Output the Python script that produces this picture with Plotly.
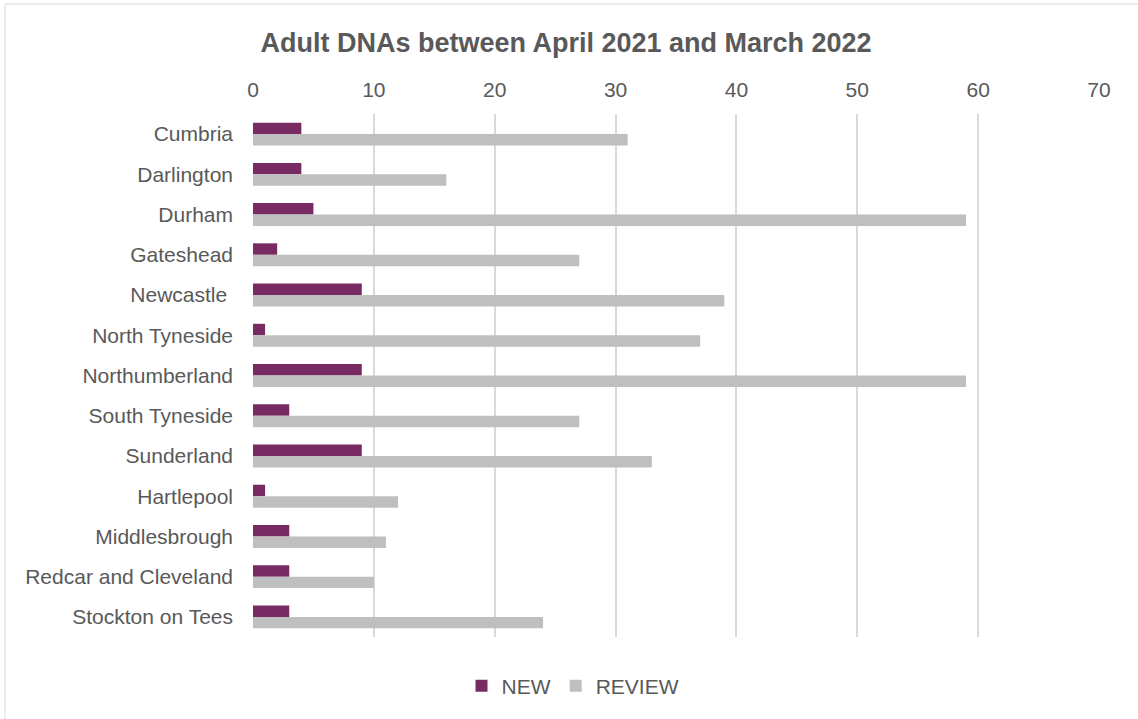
import plotly.graph_objects as go

categories = ["Cumbria", "Darlington", "Durham", "Gateshead", "Newcastle ", "North Tyneside",
              "Northumberland", "South Tyneside", "Sunderland", "Hartlepool", "Middlesbrough",
              "Redcar and Cleveland", "Stockton on Tees"]
new_values = [4, 4, 5, 2, 9, 1, 9, 3, 9, 1, 3, 3, 3]
review_values = [31, 16, 59, 27, 39, 37, 59, 27, 33, 12, 11, 10, 24]
x_ticks = [0, 10, 20, 30, 40, 50, 60, 70]

TEXT = "#595959"
FONT = "Liberation Sans, Arial, sans-serif"

fig = go.Figure()
fig.add_trace(go.Bar(y=categories, x=new_values, name="NEW", orientation="h",
                     marker=dict(color="#772b62", line=dict(width=0))))
fig.add_trace(go.Bar(y=categories, x=review_values, name="REVIEW", orientation="h",
                     marker=dict(color="#bfbfbf", line=dict(width=0))))

L, R, T, B = 253, 39, 114, 82
W, H = 1138, 719
pw = W - L - R
ph = H - T - B

fig.update_layout(
    width=W, height=H,
    margin=dict(l=L, r=R, t=T, b=B, pad=0),
    paper_bgcolor="white", plot_bgcolor="white",
    barmode="group", bargap=0.43, bargroupgap=0,
    font=dict(family=FONT, color=TEXT, size=21),
    title=dict(text="<b>Adult DNAs between April 2021 and March 2022</b>",
               x=566 / W, xanchor="center", y=1 - 43 / H, yanchor="middle",
               font=dict(size=27, color=TEXT, family=FONT)),
    xaxis=dict(side="top", range=[0, 70], tickvals=x_ticks, ticktext=[str(v) for v in x_ticks],
               showgrid=True, gridcolor="#d9d9d9", gridwidth=2, zeroline=False,
               showline=False, ticks="", tickfont=dict(size=21, color=TEXT),
               ticklabelstandoff=12),
    yaxis=dict(autorange="reversed", showgrid=False, zeroline=False, showline=False,
               ticks="", tickfont=dict(size=21, color=TEXT), ticklabelstandoff=19),
    legend=dict(orientation="h", x=(573 - L) / pw, xanchor="center",
                y=-(686 - (T + ph)) / ph, yanchor="middle",
                font=dict(size=21, color=TEXT), traceorder="normal",
                itemwidth=30),
    showlegend=True,
    shapes=[dict(type="rect", xref="paper", yref="paper",
                 x0=(5 - L) / pw, x1=(1160 - L) / pw,
                 y0=-(740 - (T + ph)) / ph, y1=1 + (T - 4) / ph,
                 line=dict(color="#d9d9d9", width=1), fillcolor="rgba(0,0,0,0)",
                 layer="below")],
)

fig.write_html("out.html")
